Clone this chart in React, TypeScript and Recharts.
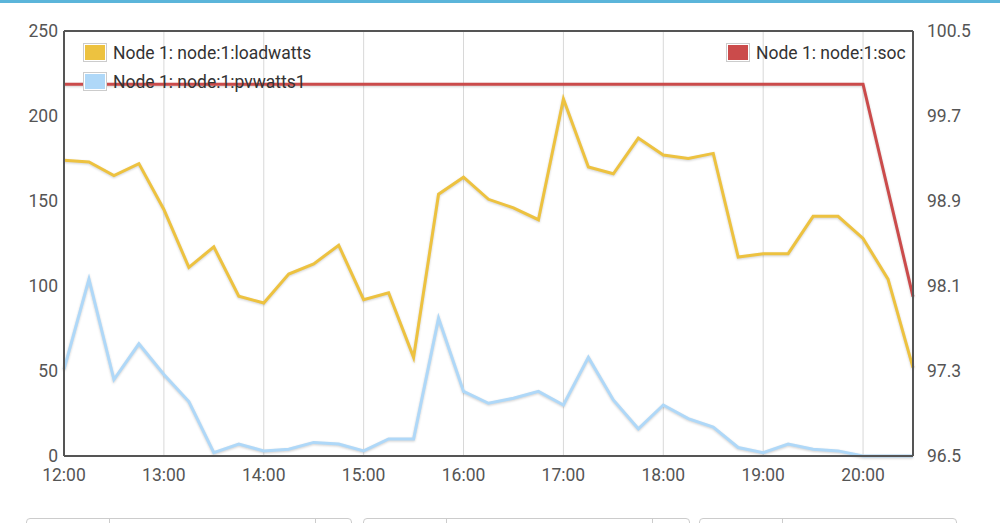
import React from "react";
import {
  LineChart,
  Line,
  XAxis,
  YAxis,
  CartesianGrid,
  ReferenceLine,
} from "recharts";

const times = [
  "12:00", "12:15", "12:30", "12:45", "13:00", "13:15", "13:30", "13:45",
  "14:00", "14:15", "14:30", "14:45", "15:00", "15:15", "15:30", "15:45",
  "16:00", "16:15", "16:30", "16:45", "17:00", "17:15", "17:30", "17:45",
  "18:00", "18:15", "18:30", "18:45", "19:00", "19:15", "19:30", "19:45",
  "20:00", "20:15", "20:30",
];

const loadwatts = [
  174, 173, 165, 172, 145, 111, 123, 94,
  90, 107, 113, 124, 92, 96, 58, 154,
  164, 151, 146, 139, 210, 170, 166, 187,
  177, 175, 178, 117, 119, 119, 141, 141,
  128, 104, 52,
];

const pvwatts = [
  51, 104, 45, 66, 48, 32, 2, 7,
  3, 4, 8, 7, 3, 10, 10, 81,
  38, 31, 34, 38, 30, 58, 33, 16,
  30, 22, 17, 5, 2, 7, 4, 3,
  0, 0, 0,
];

const soc = [
  100, 100, 100, 100, 100, 100, 100, 100,
  100, 100, 100, 100, 100, 100, 100, 100,
  100, 100, 100, 100, 100, 100, 100, 100,
  100, 100, 100, 100, 100, 100, 100, 100,
  100, 99.0, 98.0,
];

const xTickLabels = ["12:00", "13:00", "14:00", "15:00", "16:00", "17:00", "18:00", "19:00", "20:00"];
const leftTicks = [0, 50, 100, 150, 200, 250];
const rightTicks = [96.5, 97.3, 98.1, 98.9, 99.7, 100.5];

const toMinutes = (s: string) => {
  const [h, m] = s.split(":").map(Number);
  return (h - 12) * 60 + m;
};

const data = times.map((t, i) => ({
  t: toMinutes(t),
  load: loadwatts[i],
  pv: pvwatts[i],
  soc: soc[i],
}));

const FONT = "Roboto, 'Noto Sans', sans-serif";
const tickStyle = { fill: "#555", fontSize: 17.5, fontFamily: FONT };
const shadow = { filter: "drop-shadow(0px 1px 1px rgba(0,0,0,0.18))" };

function Swatch({ color, left, top }: { color: string; left: number; top: number }) {
  return (
    <div
      style={{
        position: "absolute",
        left,
        top,
        width: 20,
        height: 15,
        border: "1px solid #ccc",
        padding: 1,
        background: "#fff",
      }}
    >
      <div style={{ width: 20, height: 15, background: color }} />
    </div>
  );
}

function LegendText({ text, left, top }: { text: string; left: number; top: number }) {
  return (
    <div
      style={{
        position: "absolute",
        left,
        top,
        fontFamily: FONT,
        fontSize: 17.5,
        color: "#333",
        lineHeight: "20px",
        whiteSpace: "nowrap",
      }}
    >
      {text}
    </div>
  );
}

export default function App() {
  return (
    <div
      style={{
        position: "absolute",
        left: 0,
        top: 0,
        width: 1000,
        height: 523,
        background: "#fff",
        overflow: "hidden",
      }}
    >
      <div style={{ position: "absolute", left: 0, top: 0, width: 1000, height: 3, background: "#5bb5da" }} />
      <LineChart
        width={1000}
        height={500}
        data={data}
        margin={{ top: 31, right: 0, bottom: 4, left: 0 }}
      >
        <CartesianGrid stroke="#d8d8d8" strokeWidth={1} />
        <XAxis
          dataKey="t"
          type="number"
          domain={[0, 510]}
          ticks={xTickLabels.map(toMinutes)}
          tickFormatter={(v: number) => xTickLabels[xTickLabels.map(toMinutes).indexOf(v)] ?? ""}
          tick={tickStyle}
          tickLine={false}
          tickSize={0}
          tickMargin={13}
          height={40}
          axisLine={{ stroke: "#555", strokeWidth: 2 }}
        />
        <YAxis
          yAxisId="w"
          domain={[0, 250]}
          ticks={leftTicks}
          tick={tickStyle}
          tickLine={false}
          tickSize={0}
          tickMargin={6}
          width={64}
          interval={0}
          axisLine={{ stroke: "#555", strokeWidth: 2 }}
        />
        <YAxis
          yAxisId="soc"
          orientation="right"
          domain={[96.5, 100.5]}
          ticks={rightTicks}
          tick={{ ...tickStyle, textAnchor: "start" }}
          tickLine={false}
          tickSize={0}
          tickMargin={14}
          width={87}
          interval={0}
          axisLine={{ stroke: "#555", strokeWidth: 2 }}
        />
        <ReferenceLine yAxisId="w" y={250} stroke="#555" strokeWidth={2} />
        <Line
          yAxisId="w"
          dataKey="load"
          stroke="#edc240"
          strokeWidth={3}
          dot={false}
          type="linear"
          style={shadow}
          isAnimationActive={false}
        />
        <Line
          yAxisId="w"
          dataKey="pv"
          stroke="#afd8f8"
          strokeWidth={3}
          dot={false}
          type="linear"
          style={shadow}
          isAnimationActive={false}
        />
        <Line
          yAxisId="soc"
          dataKey="soc"
          stroke="#cb4b4b"
          strokeWidth={3}
          dot={false}
          type="linear"
          style={shadow}
          isAnimationActive={false}
        />
      </LineChart>

      <Swatch color="#edc240" left={83} top={43} />
      <LegendText text="Node 1: node:1:loadwatts" left={113} top={43} />
      <Swatch color="#afd8f8" left={83} top={72} />
      <LegendText text="Node 1: node:1:pvwatts1" left={113} top={72} />
      <Swatch color="#cb4b4b" left={726} top={43} />
      <LegendText text="Node 1: node:1:soc" left={756} top={43} />

      <div style={{ position: "absolute", left: 26, top: 518, width: 324, height: 30, border: "1px solid #ccc", borderRadius: 4 }}>
        <div style={{ position: "absolute", left: 82, top: 0, width: 1, height: 30, background: "#ccc" }} />
        <div style={{ position: "absolute", left: 288, top: 0, width: 1, height: 30, background: "#ccc" }} />
      </div>
      <div style={{ position: "absolute", left: 363, top: 518, width: 325, height: 30, border: "1px solid #ccc", borderRadius: 4 }}>
        <div style={{ position: "absolute", left: 82, top: 0, width: 1, height: 30, background: "#ccc" }} />
        <div style={{ position: "absolute", left: 288, top: 0, width: 1, height: 30, background: "#ccc" }} />
      </div>
      <div style={{ position: "absolute", left: 699, top: 518, width: 256, height: 30, border: "1px solid #ccc", borderRadius: 4 }}>
        <div style={{ position: "absolute", left: 82, top: 0, width: 1, height: 30, background: "#ccc" }} />
      </div>
    </div>
  );
}
